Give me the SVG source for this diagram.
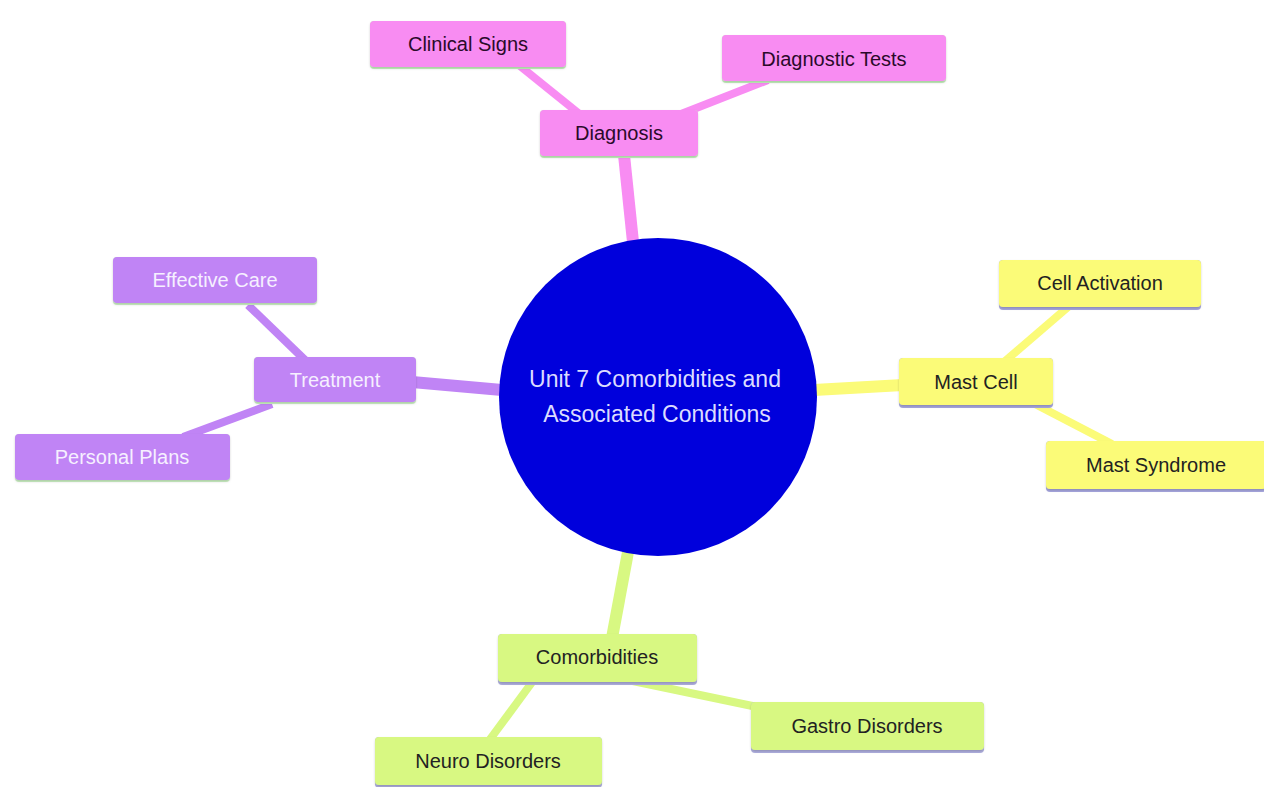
<svg xmlns="http://www.w3.org/2000/svg" width="1264" height="787" viewBox="0 0 1264 787">
<defs>
<style>
text{font-family:"Liberation Sans",Arial,sans-serif;font-size:20px;text-anchor:middle;dominant-baseline:central}
text.root{font-size:23px;fill:#dcdcff}
.pink rect.b{fill:#f88cf2}
.purple rect.b{fill:#c084f5}
.yellow rect.b{fill:#fbfb78}
.green rect.b{fill:#d8f882}
.dark{fill:#222}
.light{fill:#f6f0ff}
.e1{stroke-width:12;stroke-linecap:butt;fill:none}
.e2{stroke-width:8;stroke-linecap:butt;fill:none}
.cp{stroke:#f88cf2}.cu{stroke:#c084f5}.cy{stroke:#fbfb78}.cg{stroke:#d8f882}
</style>
<filter id="sh" x="-5%" y="-10%" width="110%" height="130%"><feDropShadow dx="0" dy="1.5" stdDeviation="1.2" flood-color="#000" flood-opacity="0.18"/></filter>
</defs>
<rect width="1264" height="787" fill="#fff"/>
<g id="connectors">
<line class="e1 cp" x1="624" y1="155" x2="633" y2="242"/>
<line class="e1 cu" x1="412" y1="382" x2="502" y2="390"/>
<line class="e1 cy" x1="814" y1="390" x2="903" y2="385"/>
<line class="e1 cg" x1="628" y1="552" x2="612" y2="638"/>
<line class="e2 cp" x1="582" y1="116" x2="520" y2="66"/>
<line class="e2 cp" x1="676" y1="116" x2="768" y2="80"/>
<line class="e2 cu" x1="306" y1="361" x2="248" y2="305"/>
<line class="e2 cu" x1="272" y1="404" x2="183" y2="437"/>
<line class="e2 cy" x1="1004" y1="362" x2="1068" y2="307"/>
<line class="e2 cy" x1="1035" y1="404" x2="1112" y2="444"/>
<line class="e2 cg" x1="533" y1="681" x2="488" y2="742"/>
<line class="e2 cg" x1="628" y1="680" x2="762" y2="708"/>
</g>
<g id="root">
<circle cx="658" cy="397" r="159" fill="#0000dc"/>
<text class="root" x="655" y="379">Unit 7 Comorbidities and</text>
<text class="root" x="657" y="414">Associated Conditions</text>
</g>
<g id="diagnosis" class="pink">
<rect x="540" y="110" width="158" height="48" rx="4" fill="#c8f5c0"/>
<rect class="b" x="540" y="110" width="158" height="46" rx="4" filter="url(#sh)"/>
<text x="619" y="133" fill="#2a0a2a">Diagnosis</text>
</g>
<g id="clinical-signs" class="pink">
<rect x="370" y="21" width="196" height="48" rx="4" fill="#c8f5c0"/>
<rect class="b" x="370" y="21" width="196" height="46" rx="4" filter="url(#sh)"/>
<text x="468" y="44" fill="#2a0a2a">Clinical Signs</text>
</g>
<g id="diagnostic-tests" class="pink">
<rect x="722" y="35" width="224" height="48" rx="4" fill="#c8f5c0"/>
<rect class="b" x="722" y="35" width="224" height="46" rx="4" filter="url(#sh)"/>
<text x="834" y="59" fill="#2a0a2a">Diagnostic Tests</text>
</g>
<g id="treatment" class="purple">
<rect x="254" y="357" width="162" height="47" rx="4" fill="#d0f5c8"/>
<rect class="b" x="254" y="357" width="162" height="45" rx="4" filter="url(#sh)"/>
<text class="light" x="335" y="380">Treatment</text>
</g>
<g id="effective-care" class="purple">
<rect x="113" y="257" width="204" height="48" rx="4" fill="#d0f5c8"/>
<rect class="b" x="113" y="257" width="204" height="46" rx="4" filter="url(#sh)"/>
<text class="light" x="215" y="280">Effective Care</text>
</g>
<g id="personal-plans" class="purple">
<rect x="15" y="434" width="215" height="48" rx="4" fill="#d0f5c8"/>
<rect class="b" x="15" y="434" width="215" height="46" rx="4" filter="url(#sh)"/>
<text class="light" x="122" y="457">Personal Plans</text>
</g>
<g id="mast-cell" class="yellow">
<rect x="899" y="358" width="154" height="50" rx="4" fill="#a8a8e0"/>
<rect class="b" x="899" y="358" width="154" height="47" rx="4" filter="url(#sh)"/>
<text class="dark" x="976" y="382">Mast Cell</text>
</g>
<g id="cell-activation" class="yellow">
<rect x="999" y="260" width="202" height="50" rx="4" fill="#a8a8e0"/>
<rect class="b" x="999" y="260" width="202" height="47" rx="4" filter="url(#sh)"/>
<text class="dark" x="1100" y="283">Cell Activation</text>
</g>
<g id="mast-syndrome" class="yellow">
<rect x="1046" y="441" width="220" height="51" rx="4" fill="#a8a8e0"/>
<rect class="b" x="1046" y="441" width="220" height="48" rx="4" filter="url(#sh)"/>
<text class="dark" x="1156" y="465">Mast Syndrome</text>
</g>
<g id="comorbidities" class="green">
<rect x="498" y="634" width="199" height="51" rx="4" fill="#b0b0e0"/>
<rect class="b" x="498" y="634" width="199" height="48" rx="4" filter="url(#sh)"/>
<text class="dark" x="597" y="657">Comorbidities</text>
</g>
<g id="gastro-disorders" class="green">
<rect x="751" y="702" width="233" height="51" rx="4" fill="#b0b0e0"/>
<rect class="b" x="751" y="702" width="233" height="48" rx="4" filter="url(#sh)"/>
<text class="dark" x="867" y="726">Gastro Disorders</text>
</g>
<g id="neuro-disorders" class="green">
<rect x="375" y="737" width="227" height="51" rx="4" fill="#b0b0e0"/>
<rect class="b" x="375" y="737" width="227" height="48" rx="4" filter="url(#sh)"/>
<text class="dark" x="488" y="761">Neuro Disorders</text>
</g>
</svg>
